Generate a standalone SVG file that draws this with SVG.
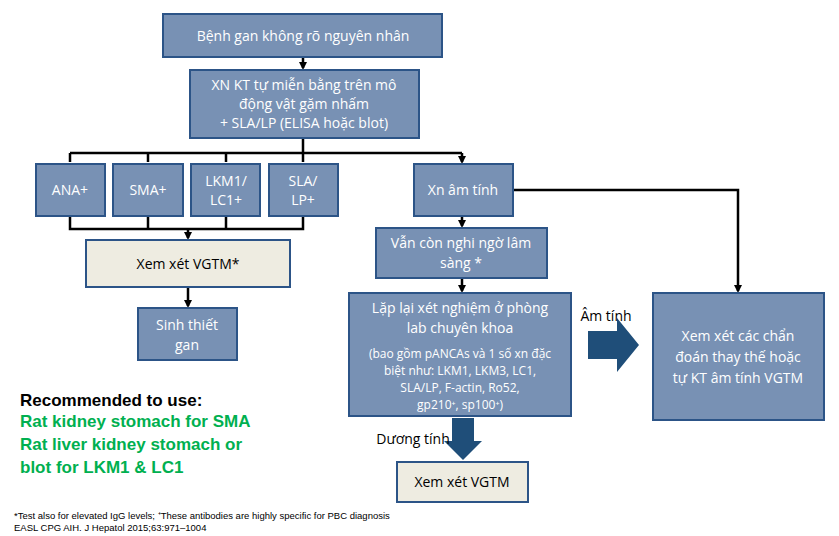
<svg xmlns="http://www.w3.org/2000/svg" width="839" height="536" viewBox="0 0 839 536">
<style>
.b{fill:#7891b4;stroke:#2c5487;stroke-width:2}
.c{fill:#eeece1;stroke:#2c5487;stroke-width:2}
.t{font-family:"Open Sans","Liberation Sans",sans-serif;font-size:14px;fill:#fff;text-anchor:middle}
.s{font-size:12px}
.k{fill:#000}
.l{stroke:#000;stroke-width:2.5;fill:none}
.g{font-family:"Liberation Sans",sans-serif;font-size:17px;font-weight:bold;fill:#00b050}
.f{font-family:"Liberation Sans",sans-serif;font-size:9.5px;fill:#000}
</style>
<defs><marker id="a" markerWidth="8" markerHeight="8" refX="6" refY="4" orient="auto" markerUnits="userSpaceOnUse"><path d="M0,0L8,4L0,8z" fill="#000"/></marker></defs>
<g id="connectors">
<path class="l" d="M303,57V68" marker-end="url(#a)"/>
<path class="l" d="M303,138V153M70,153H462"/>
<path class="l" d="M70,153V162M148,153V162M226,153V162M303,153V162M462,153V162" marker-end="url(#a)"/>
<path class="l" d="M70,216V229H303V216M148,216V229M226,216V229"/>
<path class="l" d="M188,229V238" marker-end="url(#a)"/>
<path class="l" d="M188,287V306" marker-end="url(#a)"/>
<path class="l" d="M513,190H738V291" marker-end="url(#a)"/>
<path class="l" d="M462,216V226" marker-end="url(#a)"/>
<path class="l" d="M462,278V291" marker-end="url(#a)"/>
<path fill="#1f4e79" d="M588,331H617V318L639,345L617,372V359H588z"/>
<path fill="#1f4e79" d="M452,418H474V441H482L463,460L444,441H452z"/>
</g>
<g id="n1"><rect class="b" x="163" y="14" width="279" height="43"/><text class="t" x="303" y="41">Bệnh gan không rõ nguyên nhân</text></g>
<g id="n2"><rect class="b" x="190" y="70" width="229" height="68"/><text class="t" x="304" y="90">XN KT tự miễn bằng trên mô</text><text class="t" x="304" y="109">động vật gặm nhấm</text><text class="t" x="304" y="128">+ SLA/LP (ELISA hoặc blot)</text></g>
<g id="ana"><rect class="b" x="36" y="164" width="69" height="52"/><text class="t" x="70" y="195">ANA+</text></g>
<g id="sma"><rect class="b" x="113" y="164" width="70" height="52"/><text class="t" x="148" y="195">SMA+</text></g>
<g id="lkm"><rect class="b" x="191" y="164" width="69" height="52"/><text class="t" x="226" y="186">LKM1/</text><text class="t" x="226" y="205">LC1+</text></g>
<g id="sla"><rect class="b" x="269" y="164" width="69" height="52"/><text class="t" x="303" y="186">SLA/</text><text class="t" x="303" y="205">LP+</text></g>
<g id="xnam"><rect class="b" x="414" y="164" width="99" height="52"/><text class="t" x="463" y="195">Xn âm tính</text></g>
<g id="vgtm1"><rect class="c" x="86" y="240" width="204" height="47"/><text class="t k" x="188" y="269">Xem xét VGTM*</text></g>
<g id="sinh"><rect class="b" x="138" y="308" width="99" height="52"/><text class="t" x="187" y="330">Sinh thiết</text><text class="t" x="187" y="350">gan</text></g>
<g id="nghi"><rect class="b" x="376" y="228" width="171" height="50"/><text class="t" x="461" y="248">Vẫn còn nghi ngờ lâm</text><text class="t" x="461" y="268">sàng *</text></g>
<g id="lap"><rect class="b" x="349" y="293" width="222" height="123"/><text class="t" x="460" y="313">Lặp lại xét nghiệm ở phòng</text><text class="t" x="460" y="333">lab chuyên khoa</text><text class="t s" x="460" y="358">(bao gồm pANCAs và 1 số xn đặc</text><text class="t s" x="460" y="375">biệt như:  LKM1, LKM3, LC1,</text><text class="t s" x="460" y="392">SLA/LP, F-actin, Ro52,</text><text class="t s" x="460" y="409">gp210⁺, sp100⁺)</text></g>
<g id="alt"><rect class="b" x="653" y="293" width="171" height="127"/><text class="t" x="738" y="341">Xem xét các chẩn</text><text class="t" x="738" y="362">đoán thay thế hoặc</text><text class="t" x="738" y="383">tự KT âm tính VGTM</text></g>
<g id="vgtm2"><rect class="c" x="397" y="462" width="131" height="40"/><text class="t k" x="462" y="487">Xem xét VGTM</text></g>
<text class="t k" x="606" y="321">Âm tính</text>
<text class="t k" x="413" y="444">Dương tính</text>
<text class="g" x="20" y="406" fill="#000" style="fill:#000">Recommended to use:</text>
<text class="g" x="20" y="427">Rat kidney stomach for SMA</text>
<text class="g" x="20" y="450">Rat liver kidney stomach or</text>
<text class="g" x="20" y="473">blot for LKM1 &amp; LC1</text>
<text class="f" x="14" y="519">*Test also for elevated IgG levels; ⁺These antibodies are highly specific for PBC diagnosis</text>
<text class="f" x="14" y="531">EASL CPG AIH. J Hepatol 2015;63:971–1004</text>
</svg>
